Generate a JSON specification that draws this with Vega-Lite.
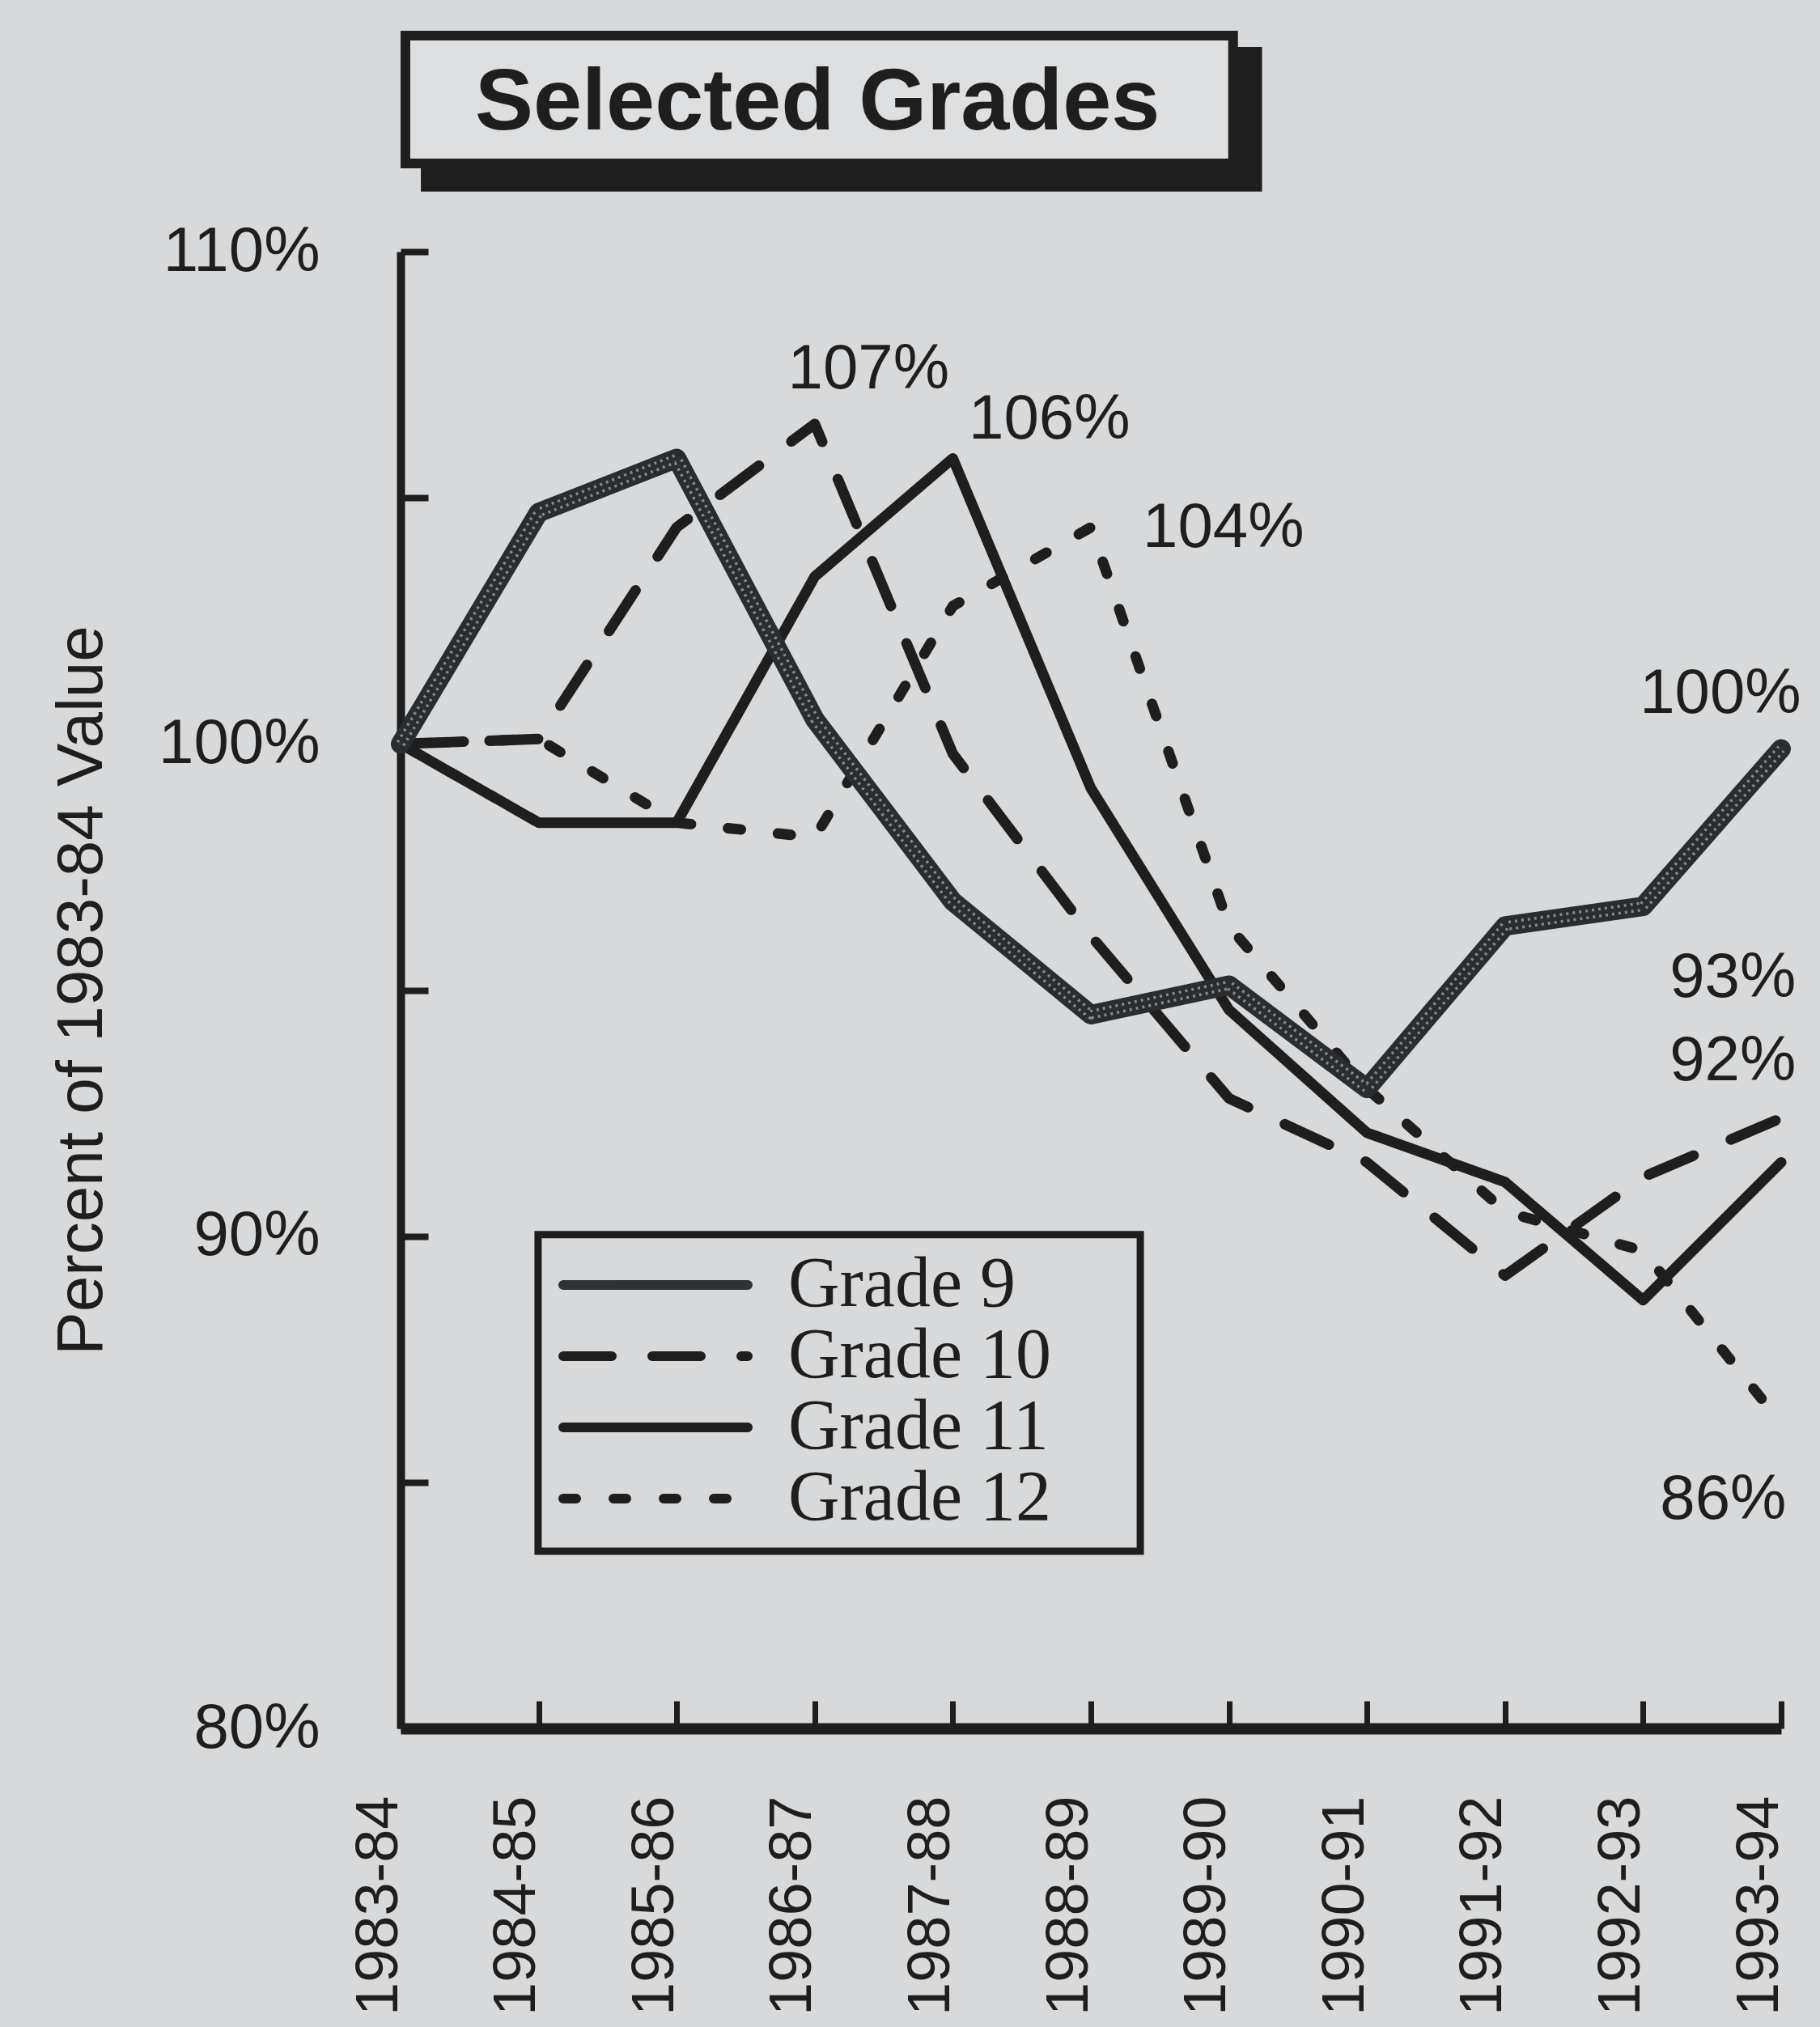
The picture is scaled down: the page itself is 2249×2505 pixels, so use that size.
{
  "$schema": "https://vega.github.io/schema/vega-lite/v6.json",
  "width": 1706,
  "height": 1825,
  "autosize": {"type": "none"},
  "padding": {"left": 495, "top": 311, "right": 48, "bottom": 369},
  "background": "#d8d9da",
  "config": {"view": {"stroke": null}, "font": "Liberation Sans"},
  "datasets": {
    "enrollment": [
      {"grade": "Grade 9", "year": 1983, "pct": 100.0},
      {"grade": "Grade 9", "year": 1984, "pct": 104.7},
      {"grade": "Grade 9", "year": 1985, "pct": 105.8},
      {"grade": "Grade 9", "year": 1986, "pct": 100.5},
      {"grade": "Grade 9", "year": 1987, "pct": 96.8},
      {"grade": "Grade 9", "year": 1988, "pct": 94.5},
      {"grade": "Grade 9", "year": 1989, "pct": 95.1},
      {"grade": "Grade 9", "year": 1990, "pct": 93.0},
      {"grade": "Grade 9", "year": 1991, "pct": 96.3},
      {"grade": "Grade 9", "year": 1992, "pct": 96.7},
      {"grade": "Grade 9", "year": 1993, "pct": 99.9},
      {"grade": "Grade 10", "year": 1983, "pct": 100.0},
      {"grade": "Grade 10", "year": 1984, "pct": 100.1},
      {"grade": "Grade 10", "year": 1985, "pct": 104.4},
      {"grade": "Grade 10", "year": 1986, "pct": 106.5},
      {"grade": "Grade 10", "year": 1987, "pct": 99.8},
      {"grade": "Grade 10", "year": 1988, "pct": 96.1},
      {"grade": "Grade 10", "year": 1989, "pct": 92.8},
      {"grade": "Grade 10", "year": 1990, "pct": 91.5},
      {"grade": "Grade 10", "year": 1991, "pct": 89.2},
      {"grade": "Grade 10", "year": 1992, "pct": 91.2},
      {"grade": "Grade 10", "year": 1993, "pct": 92.4},
      {"grade": "Grade 11", "year": 1983, "pct": 100.0},
      {"grade": "Grade 11", "year": 1984, "pct": 98.4},
      {"grade": "Grade 11", "year": 1985, "pct": 98.4},
      {"grade": "Grade 11", "year": 1986, "pct": 103.4},
      {"grade": "Grade 11", "year": 1987, "pct": 105.8},
      {"grade": "Grade 11", "year": 1988, "pct": 99.1},
      {"grade": "Grade 11", "year": 1989, "pct": 94.6},
      {"grade": "Grade 11", "year": 1990, "pct": 92.1},
      {"grade": "Grade 11", "year": 1991, "pct": 91.1},
      {"grade": "Grade 11", "year": 1992, "pct": 88.7},
      {"grade": "Grade 11", "year": 1993, "pct": 91.5},
      {"grade": "Grade 12", "year": 1983, "pct": 100.0},
      {"grade": "Grade 12", "year": 1984, "pct": 100.1},
      {"grade": "Grade 12", "year": 1985, "pct": 98.4},
      {"grade": "Grade 12", "year": 1986, "pct": 98.1},
      {"grade": "Grade 12", "year": 1987, "pct": 102.8},
      {"grade": "Grade 12", "year": 1988, "pct": 104.4},
      {"grade": "Grade 12", "year": 1989, "pct": 96.3},
      {"grade": "Grade 12", "year": 1990, "pct": 93.0},
      {"grade": "Grade 12", "year": 1991, "pct": 90.5},
      {"grade": "Grade 12", "year": 1992, "pct": 89.7},
      {"grade": "Grade 12", "year": 1993, "pct": 86.2}
    ],
    "labels": [
      {"text": "107%", "year": 1986.39, "pct": 107.22},
      {"text": "106%", "year": 1987.70, "pct": 106.20},
      {"text": "104%", "year": 1988.96, "pct": 104.0},
      {"text": "100%", "year": 1992.56, "pct": 100.63},
      {"text": "93%", "year": 1992.65, "pct": 94.86},
      {"text": "92%", "year": 1992.65, "pct": 93.17},
      {"text": "86%", "year": 1992.58, "pct": 84.26}
    ]
  },
  "layer": [
    {
      "data": {"values": [{}]},
      "mark": {"type": "rect", "color": "#1e1e1e"},
      "encoding": {
        "x": {"datum": 1983.147, "type": "quantitative"},
        "x2": {"datum": 1989.24},
        "y": {"datum": 114.16, "type": "quantitative"},
        "y2": {"datum": 111.22}
      }
    },
    {
      "data": {"values": [{}]},
      "mark": {"type": "rect", "fill": "#dedfe0", "stroke": "#1e1e1e", "strokeWidth": 12},
      "encoding": {
        "x": {"datum": 1983.035, "type": "quantitative"},
        "x2": {"datum": 1989.03},
        "y": {"datum": 114.39, "type": "quantitative"},
        "y2": {"datum": 111.79}
      }
    },
    {
      "data": {"values": [{}]},
      "mark": {"type": "text", "text": "Selected Grades", "fontSize": 108, "font": "Liberation Sans", "fontWeight": "bold", "align": "center", "baseline": "alphabetic", "color": "#1e1e1e"},
      "encoding": {
        "x": {"datum": 1986.02, "type": "quantitative"},
        "y": {"datum": 112.48, "type": "quantitative"}
      }
    },
    {
      "data": {"values": [{}]},
      "mark": {"type": "rect", "fill": "#d8d9da", "stroke": "#1e1e1e", "strokeWidth": 9},
      "encoding": {
        "x": {"datum": 1983.996, "type": "quantitative"},
        "x2": {"datum": 1988.358},
        "y": {"datum": 90.03, "type": "quantitative"},
        "y2": {"datum": 83.6}
      }
    },
    {
      "data": {"name": "enrollment"},
      "mark": {"type": "line", "strokeWidth": 13, "strokeCap": "round", "strokeJoin": "round"},
      "encoding": {
        "x": {
          "field": "year", "type": "quantitative",
          "scale": {"domain": [1983, 1993], "nice": false, "zero": false},
          "axis": {
            "title": null,
            "values": [1983, 1984, 1985, 1986, 1987, 1988, 1989, 1990, 1991, 1992, 1993],
            "labelExpr": "datum.value + '-' + substring(toString(datum.value + 1), 2, 4)",
            "labelAngle": 270, "labelAlign": "right", "labelBaseline": "middle",
            "labelFontSize": 74, "labelFont": "Liberation Sans", "labelColor": "#1e1e1e",
            "labelPadding": 117, "labelOffset": -27, "labelLimit": 1000,
            "tickSize": -34, "tickWidth": 7, "tickColor": "#1e1e1e",
            "domainWidth": 14, "domainColor": "#1e1e1e",
            "grid": false, "labelFlush": false, "labelOverlap": false
          }
        },
        "y": {
          "field": "pct", "type": "quantitative",
          "scale": {"domain": [80, 110], "nice": false, "zero": false},
          "axis": {
            "title": "Percent of 1983-84 Value",
            "titleFontSize": 80, "titleFont": "Liberation Sans", "titleFontWeight": "normal", "titleColor": "#1e1e1e", "titlePadding": 153,
            "values": [80, 85, 90, 95, 100, 105, 110],
            "labelExpr": "datum.value % 10 === 0 ? datum.value + '%' : ''",
            "labelFontSize": 78, "labelFont": "Liberation Sans", "labelColor": "#1e1e1e", "labelPadding": 134, "labelLimit": 1000,
            "tickSize": -34, "tickWidth": 8, "tickColor": "#1e1e1e",
            "domainWidth": 10, "domainColor": "#1e1e1e",
            "grid": false, "labelFlush": false, "labelOverlap": false
          }
        },
        "color": {
          "field": "grade", "type": "nominal",
          "scale": {"domain": ["Grade 9", "Grade 10", "Grade 11", "Grade 12"], "range": ["#2f3235", "#1e1e1e", "#1e1e1e", "#1e1e1e"]},
          "legend": {
            "title": null, "orient": "none", "legendX": 201, "legendY": 1233,
            "symbolType": "M-3,0H3", "symbolSize": 5776, "symbolStrokeWidth": 12, "symbolOffset": 70,
            "labelOffset": 120, "labelFont": "Liberation Serif", "labelFontSize": 88, "labelColor": "#1e1e1e", "labelLimit": 1000,
            "rowPadding": 0, "padding": 0,
            "encode": {"symbols": {"update": {"strokeCap": {"value": "round"}}}}
          }
        },
        "strokeDash": {
          "field": "grade", "type": "nominal",
          "scale": {"domain": ["Grade 9", "Grade 10", "Grade 11", "Grade 12"], "range": [[3, 2], [60, 50], [1, 0], [16, 46]]},
          "legend": {
            "title": null, "orient": "none", "legendX": 201, "legendY": 1233,
            "symbolType": "M-3,0H3", "symbolSize": 5776, "symbolStrokeWidth": 12, "symbolOffset": 70,
            "labelOffset": 120, "labelFont": "Liberation Serif", "labelFontSize": 88, "labelColor": "#1e1e1e", "labelLimit": 1000,
            "rowPadding": 0, "padding": 0,
            "encode": {"symbols": {"update": {"strokeCap": {"value": "round"}}}}
          }
        }
      }
    },
    {
      "data": {"name": "enrollment"},
      "transform": [{"filter": "datum.grade === 'Grade 9'"}],
      "mark": {"type": "line", "strokeWidth": 24, "color": "#2a2d30", "strokeCap": "round", "strokeJoin": "round"},
      "encoding": {
        "x": {"field": "year", "type": "quantitative"},
        "y": {"field": "pct", "type": "quantitative"}
      }
    },
    {
      "data": {"name": "enrollment"},
      "transform": [{"filter": "datum.grade === 'Grade 9'"}],
      "mark": {"type": "line", "strokeWidth": 12, "color": "#86898c", "strokeDash": [3, 5], "strokeJoin": "round"},
      "encoding": {
        "x": {"field": "year", "type": "quantitative"},
        "y": {"field": "pct", "type": "quantitative"}
      }
    },
    {
      "data": {"name": "enrollment"},
      "transform": [{"filter": "datum.grade === 'Grade 9'"}],
      "mark": {"type": "line", "strokeWidth": 5, "color": "#2a2d30", "strokeJoin": "round"},
      "encoding": {
        "x": {"field": "year", "type": "quantitative"},
        "y": {"field": "pct", "type": "quantitative"}
      }
    },
    {
      "data": {"name": "labels"},
      "mark": {"type": "text", "fontSize": 78, "font": "Liberation Sans", "align": "center", "baseline": "alphabetic", "color": "#1e1e1e"},
      "encoding": {
        "x": {"field": "year", "type": "quantitative"},
        "y": {"field": "pct", "type": "quantitative"},
        "text": {"field": "text"}
      }
    }
  ]
}
